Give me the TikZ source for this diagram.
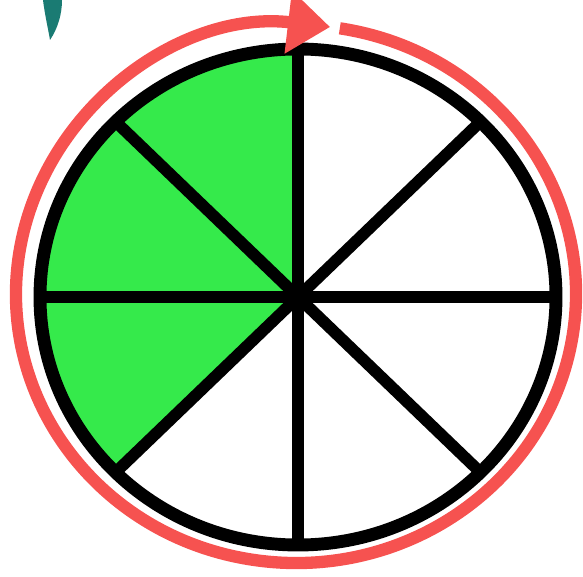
\documentclass[tikz,border=0pt]{standalone}
\usetikzlibrary{arrows.meta,calc}
\definecolor{wheelgreen}{RGB}{53,234,75}
\definecolor{ringred}{RGB}{246,82,80}
\definecolor{leafteal}{RGB}{26,123,115}
\tikzset{
	hub/.style={
		fill=black,circle,inner sep=0pt,minimum size=20pt
	},
	spoke/.style={line width=10pt},
	rim/.style={line width=11pt},
	ring/.style={ringred,line width=10.5pt,
		-{Triangle[length=36pt,width=52pt]}},
}
\def\radX{258}
\def\radY{248}

\begin{document}
\begin{tikzpicture}[x=0.03cm,y=0.03cm]
\useasboundingbox (0,0) rectangle (583,576);
% leaf piece cut by the top edge
\fill[leafteal] (43,576) .. controls (45,560) and (48,548) .. (50,536)
	.. controls (58,548) and (62,562) .. (62,576) -- cycle;
\node[hub] (hub) at (298,279) {};
\foreach \a in {0,45,...,315}
	\coordinate (rim\a) at ($(hub.center)+({\radX*cos(\a)},{\radY*sin(\a)})$);
\fill[wheelgreen] (hub.center) -- (rim90)
	arc[start angle=90,end angle=225,x radius=\radX,y radius=\radY] -- cycle;
\foreach \a in {0,45,...,315}
	\draw[spoke] (hub.center) -- (rim\a);
\draw[rim] (hub.center) ellipse[x radius=\radX,y radius=\radY];
\node[hub] at (hub) {};
\draw[ring] (296,282) ++(81:280 and 269)
	arc[start angle=81,end angle=-277,x radius=280,y radius=269];
\end{tikzpicture}
\end{document}
